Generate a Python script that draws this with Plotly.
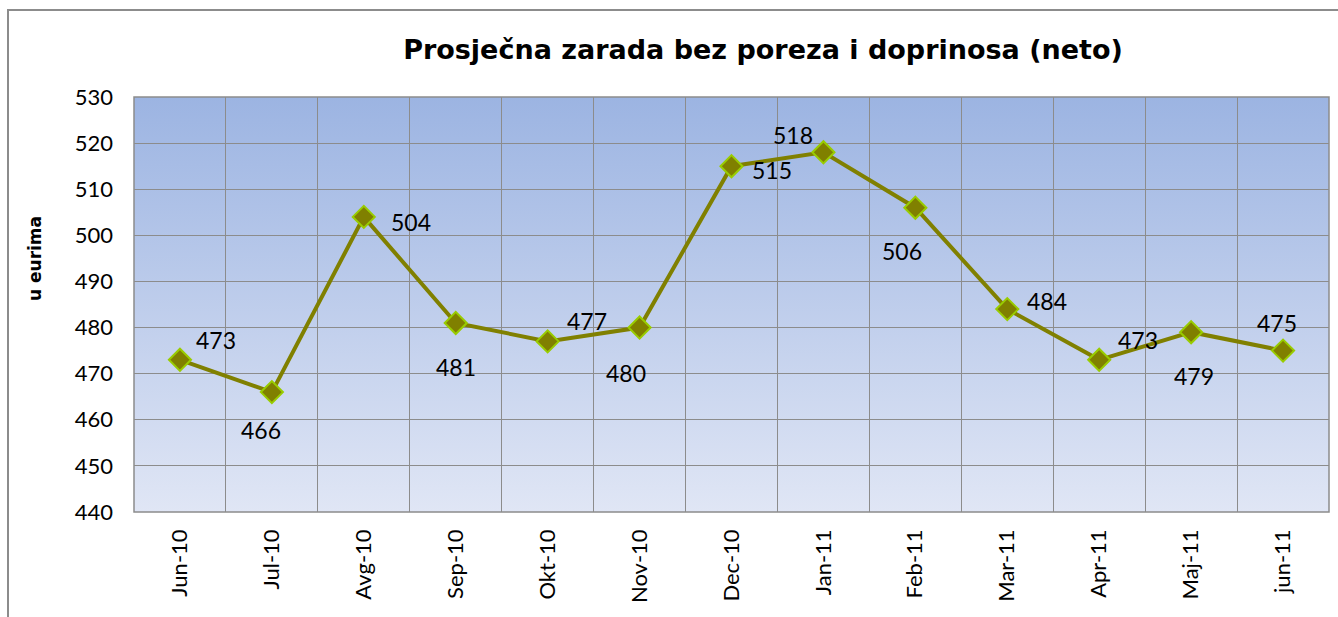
import plotly.graph_objects as go

categories = ["Jun-10", "Jul-10", "Avg-10", "Sep-10", "Okt-10", "Nov-10", "Dec-10",
              "Jan-11", "Feb-11", "Mar-11", "Apr-11", "Maj-11", "jun-11"]
values = [473, 466, 504, 481, 477, 480, 515, 518, 506, 484, 473, 479, 475]
# label offsets in pixels (style only)
label_dx = [36, -11, 47, 0, 39, -14, 40, -30, -13, 40, 39, 3, -6]
label_dy = [-20, 38, 5, 44, -20, 45, 4, -17, 43, -8, -20, 44, -28]

W, H = 1338, 617
L, R, T, B = 134, 9, 97, 105
pw, ph = W - L - R, H - T - B

fig = go.Figure()
fig.add_trace(go.Scatter(
    x=categories, y=values, mode="lines+markers",
    line=dict(color="#808000", width=4),
    marker=dict(symbol="diamond", size=17, color="#808000",
                line=dict(color="#99CC00", width=2)),
    hoverinfo="x+y", showlegend=False,
))

for c, v, dx, dy in zip(categories, values, label_dx, label_dy):
    fig.add_annotation(x=c, y=v, xref="x", yref="y", text=str(v),
                       showarrow=True, arrowcolor="rgba(0,0,0,0)", arrowwidth=0.1,
                       ax=dx, ay=dy, axref="pixel", ayref="pixel",
                       font=dict(family="Lato, Open Sans, sans-serif", size=23, color="#000"))

svg = ("data:image/svg+xml;utf8,<svg xmlns='http://www.w3.org/2000/svg' width='100' height='100' "
       "preserveAspectRatio='none'><defs><linearGradient id='g' x1='0' y1='0' x2='0' y2='1'>"
       "<stop offset='0' stop-color='%239CB4E2'/><stop offset='1' stop-color='%23E0E6F5'/>"
       "</linearGradient></defs><rect width='100' height='100' fill='url(%23g)'/></svg>")
fig.add_layout_image(source=svg, xref="paper", yref="paper", x=0, y=1, sizex=1, sizey=1,
                     sizing="stretch", layer="below", xanchor="left", yanchor="top")

# outer chart frame
fig.add_shape(type="rect", xref="paper", yref="paper",
              x0=(8 - L) / pw, x1=(W + 5 - L) / pw,
              y0=(ph + T - (H + 5)) / ph, y1=(ph + T - 10) / ph,
              line=dict(color="#8C8C8C", width=2), fillcolor="rgba(0,0,0,0)", layer="below")

# plot border
fig.add_shape(type="rect", xref="paper", yref="paper", x0=0, x1=1, y0=0, y1=1,
              line=dict(color="#8C8C8C", width=1.5))

fig.add_annotation(text="<b>u eurima</b>", xref="paper", yref="paper",
                   x=(35 - L) / pw, y=(ph + T - 259) / ph, showarrow=False, textangle=-90,
                   font=dict(family="DejaVu Sans, sans-serif", size=17, color="#000"),
                   xanchor="center", yanchor="middle")

fig.update_layout(
    width=W, height=H,
    margin=dict(l=L, r=R, t=T, b=B),
    paper_bgcolor="white", plot_bgcolor="rgba(0,0,0,0)",
    title=dict(text="<b>Prosječna zarada bez poreza i doprinosa (neto)</b>",
               x=763 / W, xanchor="center", xref="container",
               y=1 - 50 / H, yanchor="middle", yref="container",
               font=dict(family="DejaVu Sans, sans-serif", size=27, color="#000")),
    xaxis=dict(type="category", tickson="boundaries", showgrid=True, gridcolor="#8C8C8C",
               gridwidth=1, tickangle=-90, ticks="", ticklabelstandoff=12,
               range=[-0.5, len(categories) - 0.5],
               tickfont=dict(family="Lato, Open Sans, sans-serif", size=22, color="#000"),
               showline=False, zeroline=False, fixedrange=True),
    yaxis=dict(range=[440, 530], dtick=10, showgrid=True, gridcolor="#8C8C8C", gridwidth=1,
               ticks="", ticklabelstandoff=20, zeroline=False, showline=False,
               tickfont=dict(family="Lato, Open Sans, sans-serif", size=22, color="#000"),
               fixedrange=True),
)

fig.write_html("out.html")
